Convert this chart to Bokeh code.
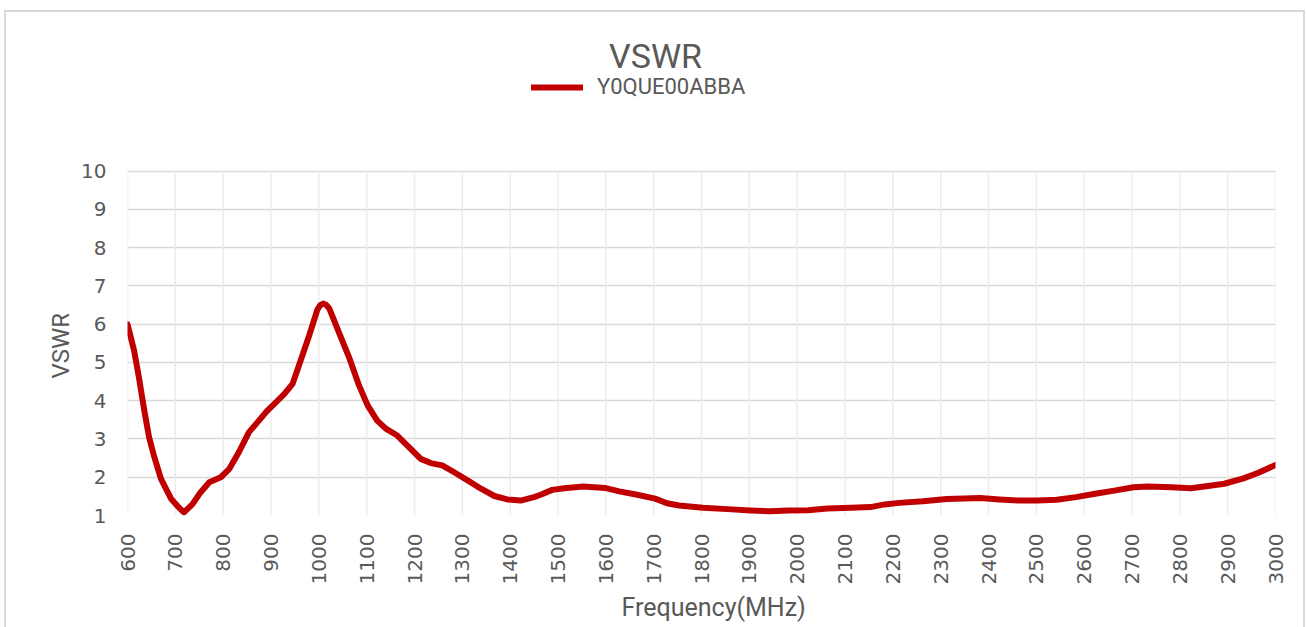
from bokeh.plotting import figure
from bokeh.models import Range1d, FixedTicker, Label, Legend, LegendItem, Title
from bokeh.embed import file_html
from bokeh.resources import INLINE
import math

# ---- data ----
freq_mhz = [600, 614, 624, 635, 645, 656, 670, 691, 705, 718, 736, 753, 771, 795,
            813, 833, 854, 872, 893, 907, 928, 945, 962, 980, 997, 1003, 1009, 1015, 1022, 1039,
            1063, 1084, 1102, 1122, 1140, 1164, 1192, 1213, 1234, 1258, 1283, 1311,
            1339, 1367, 1394, 1422, 1450, 1465, 1488, 1513, 1553, 1598, 1628, 1663,
            1703, 1728, 1753, 1803, 1863, 1903, 1943, 1983, 2023, 2063, 2113, 2153,
            2183, 2213, 2263, 2313, 2383, 2423, 2463, 2503, 2543, 2583, 2623, 2663,
            2703, 2733, 2783, 2823, 2863, 2893, 2933, 2963, 3000]
vswr = [6.0, 5.3, 4.6, 3.75, 3.05, 2.53, 1.96, 1.44, 1.24, 1.08, 1.3, 1.61, 1.87, 2.0,
        2.22, 2.66, 3.18, 3.44, 3.75, 3.92, 4.18, 4.44, 5.05, 5.71, 6.38, 6.50, 6.54, 6.51, 6.41, 5.88,
        5.14, 4.4, 3.88, 3.48, 3.27, 3.09, 2.74, 2.48, 2.37, 2.31, 2.13, 1.92,
        1.70, 1.51, 1.42, 1.39, 1.48, 1.55, 1.67, 1.71, 1.76, 1.72, 1.63, 1.55,
        1.44, 1.32, 1.26, 1.20, 1.16, 1.13, 1.11, 1.13, 1.14, 1.18, 1.20, 1.22,
        1.29, 1.33, 1.37, 1.43, 1.46, 1.42, 1.39, 1.39, 1.41, 1.48, 1.57, 1.65,
        1.74, 1.76, 1.74, 1.71, 1.78, 1.83, 1.97, 2.11, 2.32]
x_ticks = list(range(600, 3001, 100))
y_ticks = list(range(1, 11))
series_name = "Y0QUE00ABBA"
chart_title = "VSWR"
x_label = "Frequency(MHz)"
y_label = "VSWR"

TEXT = "#595959"
RED = "#C00000"

# frame spans from page y=20 to y=516; the 1..10 band occupies 171..516
Y_TOP = 1 + (516 - 20) * 9 / (516 - 171)

p = figure(width=1297, height=615, output_backend="svg", toolbar_location=None,
           x_range=Range1d(600, 3000), y_range=Range1d(1, Y_TOP),
           min_border_left=121, min_border_right=32, min_border_top=8,
           min_border_bottom=114)
p.styles = {"margin": "10px 0px -12px 4px",
            "border-top": "2px solid #d9d9d9",
            "border-left": "2px solid #d9d9d9",
            "border-right": "2px solid #d9d9d9",
            "box-sizing": "content-box"}
p.outline_line_color = None
p.background_fill_color = "white"
p.border_fill_color = "white"

# vertical grid lines limited to the 1..10 band
p.segment(x0=x_ticks, y0=[y_ticks[0]] * len(x_ticks), x1=x_ticks,
          y1=[y_ticks[-1]] * len(x_ticks), line_color="#ececec", line_width=1.5)
p.xgrid.visible = False
p.ygrid.ticker = FixedTicker(ticks=y_ticks)
p.ygrid.grid_line_color = "#d9d9d9"
p.ygrid.grid_line_width = 1.5

r = p.line(freq_mhz, vswr, line_color=RED, line_width=6,
           line_join="round", line_cap="round")

# axes
p.xaxis.ticker = FixedTicker(ticks=x_ticks)
p.yaxis.ticker = FixedTicker(ticks=y_ticks)
for ax in (p.xaxis, p.yaxis):
    ax.axis_line_color = None
    ax.major_tick_line_color = None
    ax.minor_tick_line_color = None
    ax.major_label_text_color = TEXT
    ax.major_label_text_font = "DejaVu Sans"
    ax.major_label_text_font_size = "20px"
p.xaxis.major_label_orientation = math.pi / 2
p.xaxis.major_label_standoff = 12
p.yaxis.major_label_standoff = 15

# axis titles as side-panel titles so they can be placed along the axis
p.add_layout(Title(text=y_label, align="left", offset=137, standoff=8,
                   text_color=TEXT, text_font="Roboto", text_font_size="24px",
                   text_font_style="normal"), "left")
p.add_layout(Title(text=x_label, align="left", offset=494, standoff=7,
                   text_color=TEXT, text_font="Roboto", text_font_size="25px",
                   text_font_style="normal"), "below")

# chart title as label above the plotted band
p.add_layout(Label(x=1704, y=13.0, text=chart_title, text_align="center",
                   text_baseline="alphabetic", text_color=TEXT,
                   text_font="Roboto", text_font_size="34px"))

legend = Legend(items=[LegendItem(label=series_name, renderers=[r])],
                location=(404, 416), orientation="horizontal",
                glyph_width=52, glyph_height=20, label_height=20,
                label_standoff=14, padding=0, margin=0, spacing=0,
                border_line_color=None, background_fill_alpha=0,
                label_text_color=TEXT, label_text_font="Roboto",
                label_text_font_size="22px")
p.add_layout(legend)

open("out.html", "w").write(file_html(p, INLINE))
